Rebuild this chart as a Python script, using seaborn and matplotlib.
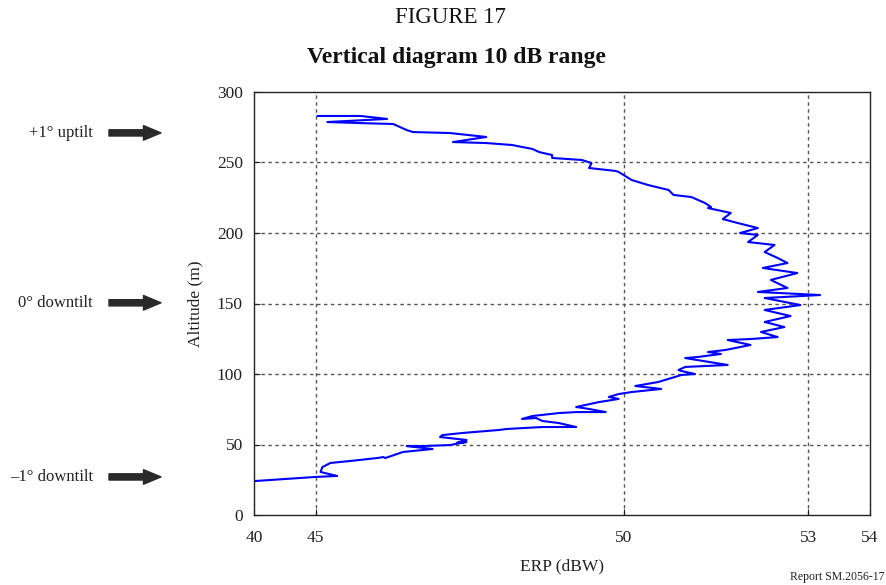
import matplotlib
matplotlib.use("Agg")
import matplotlib.pyplot as plt
import matplotlib.transforms as mtransforms
import seaborn as sns
import pandas as pd

# ERP (dBW) and altitude (m), in drawing order
erp = [44.02, 45.0, 45.35, 45.08, 45.11, 45.24, 45.56, 46.0, 46.10, 46.13,
       46.42, 46.74, 46.90, 46.48, 46.74, 47.18, 47.45, 47.29, 47.45, 47.02,
       47.06, 47.39, 47.98, 48.10, 48.68, 49.23, 48.95, 48.68, 48.58, 48.35,
       48.52, 48.95, 49.23, 49.71, 49.44, 49.23, 49.60, 49.92, 49.76, 49.92,
       50.13, 50.61, 50.19, 50.56, 50.94, 51.16, 50.94, 50.89, 51.0, 51.69,
       51.0, 51.21, 51.58, 51.37, 51.65, 52.06, 51.69, 52.06, 52.50, 52.23,
       52.61, 52.29, 52.71, 52.29, 52.87, 52.29, 53.19, 52.18, 52.66, 52.39,
       52.82, 52.26, 52.66, 52.50, 52.29, 52.45, 52.02, 52.18, 51.89, 52.18,
       51.85, 51.61, 51.74, 51.37, 51.42, 51.32, 51.10, 50.81, 50.73, 50.40,
       50.13, 49.92, 49.87, 49.44, 49.48, 49.32, 48.84, 48.84, 48.63, 48.52,
       48.19, 47.77, 47.23, 47.77, 47.18, 46.58, 46.48, 46.26, 45.68, 45.19,
       46.16, 45.73, 45.03]
altitude = [24.1, 27.0, 27.7, 30.5, 34.0, 36.9, 38.3, 40.4, 41.1, 40.4,
            44.7, 46.1, 46.8, 48.9, 48.9, 49.6, 51.8, 51.1, 53.2, 55.3,
            56.7, 58.2, 60.3, 61.0, 62.4, 62.4, 65.2, 66.7, 68.8, 68.1,
            70.2, 72.3, 73.0, 73.0, 75.2, 76.6, 80.1, 82.3, 83.7, 85.8,
            87.2, 89.4, 91.5, 94.3, 99.3, 100.0, 102.1, 102.8, 105.0, 106.4,
            111.3, 112.1, 114.2, 115.6, 117.0, 120.6, 124.1, 124.8, 126.2, 129.8,
            133.3, 136.9, 141.1, 145.4, 148.9, 153.9, 156.0, 158.2, 161.0, 166.7,
            171.6, 175.2, 178.7, 182.3, 186.5, 191.5, 193.6, 198.6, 200.0, 203.5,
            207.1, 209.9, 214.2, 217.7, 218.4, 221.3, 225.5, 227.0, 230.5, 234.0,
            237.6, 243.3, 244.0, 246.1, 249.6, 251.8, 253.2, 255.3, 257.4, 259.6,
            262.4, 263.8, 264.5, 268.1, 270.9, 271.6, 273.0, 277.3, 278.0, 278.7,
            280.9, 283.0, 283.0]

x_ticks = [44, 45, 50, 53, 54]
x_tick_labels = ["40", "45", "50", "53", "54"]
y_ticks = [0, 50, 100, 150, 200, 250, 300]
x_grid = [45, 50, 53]
y_grid = [50, 100, 150, 200, 250]

tilt_labels = ["+1° uptilt", "0° downtilt", "–1° downtilt"]
tilt_altitudes = [271, 150.5, 27]

sns.set_style("white")
plt.rcParams["font.family"] = ["Liberation Serif", "DejaVu Serif"]

fig = plt.figure(figsize=(8.86, 5.85), dpi=100)
ax = fig.add_axes([254 / 886, 1 - 515 / 585, (870 - 254) / 886, (515 - 92) / 585])

df = pd.DataFrame({"erp": erp, "alt": altitude})
sns.lineplot(data=df, x="erp", y="alt", sort=False, estimator=None,
             color="#0000ff", lw=1.5, ax=ax)

ax.set_xlim(44, 54)
ax.set_ylim(0, 300)
ax.set_xticks(x_ticks)
ax.set_xticklabels(x_tick_labels)
ax.set_yticks(y_ticks)
for xv in x_grid:
    ax.axvline(xv, color="#555555", lw=1.0, ls=(0, (2.5, 2.5)), zorder=0)
for yv in y_grid:
    ax.axhline(yv, color="#555555", lw=1.0, ls=(0, (2.5, 2.5)), zorder=0)

for s in ax.spines.values():
    s.set_color("#222222")
    s.set_linewidth(1.0)
ax.tick_params(axis="both", which="both", direction="in", length=4,
               labelsize=12.5, colors="#222222", left=True, bottom=True)
ax.tick_params(axis="x", pad=10.5)
ax.tick_params(axis="y", pad=8)
ax.set_xlabel("ERP (dBW)", fontsize=12.5, color="#222222", labelpad=9)
ax.set_ylabel("Altitude (m)", fontsize=12.5, color="#222222", labelpad=10)

fig.text(450 / 886, 1 - 17.5 / 585, "FIGURE 17", ha="center", va="center",
         fontsize=16.5, color="#111111")
fig.text(456 / 886, 1 - 57 / 585, "Vertical diagram 10 dB range", ha="center",
         va="center", fontsize=17, fontweight="bold", color="#111111")
fig.text(884 / 886, 1 - 577 / 585, "Report SM.2056-17", ha="right",
         va="center", fontsize=8.5, color="#222222")

trans = mtransforms.blended_transform_factory(fig.transFigure, ax.transData)
for lab, alt in zip(tilt_labels, tilt_altitudes):
    ax.annotate("", xy=(161 / 886, alt), xytext=(109 / 886, alt),
                xycoords=trans, textcoords=trans, annotation_clip=False,
                arrowprops=dict(arrowstyle="simple,head_length=0.9,head_width=0.75,tail_width=0.32",
                                color="#2a2a2a", mutation_scale=14, shrinkA=0, shrinkB=0))
    ax.text(93 / 886, alt, lab, transform=trans, ha="right", va="center",
            fontsize=12, color="#222222", clip_on=False)

fig.savefig("out.png", dpi=100)
